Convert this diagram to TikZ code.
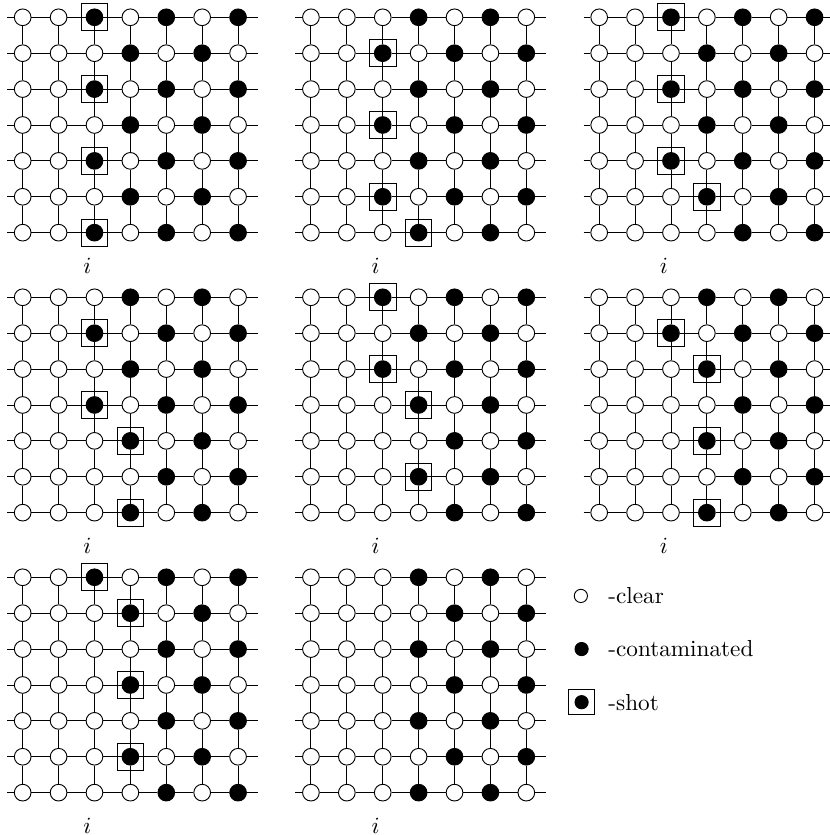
\documentclass[tikz,border=0pt]{standalone}
\usepackage{tikz}
\usetikzlibrary{positioning}
\usepackage{xcolor}

\tikzset{
  clear/.style={circle, draw, fill=white, inner sep=0pt, minimum size=7.2pt},
  cont/.style={circle, draw, fill=black, inner sep=0pt, minimum size=7.2pt},
  shotbox/.style={draw, inner sep=0pt, minimum size=11.5pt},
  keytext/.style={anchor=west},
}

% one 7x7 lattice: #1 name, #2 shift, #3 rows (0 clear, 1 contaminated, 2 shot)
\newcommand{\lattice}[3]{
  \begin{scope}[shift={#2}]
    \foreach \row [count=\rw from 0] in {#3} {
      \foreach \st [count=\col from 0] in \row {
        \ifnum\st=0 \node[clear] (#1-\col-\rw) at (\col,-\rw) {};
        \else \node[cont] (#1-\col-\rw) at (\col,-\rw) {}; \fi
        \ifnum\st=2 \node[shotbox] (#1-box-\col-\rw) at (#1-\col-\rw) {}; \fi
      }
    }
    \foreach \rw in {0,...,6} {
      \coordinate (#1-l\rw) at (-0.43,-\rw);
      \coordinate (#1-r\rw) at (6.55,-\rw);
      \draw (#1-l\rw) -- (#1-0-\rw);
      \draw (#1-6-\rw) -- (#1-r\rw);
      \foreach \col in {0,...,5} {
        \pgfmathtruncatemacro{\nx}{\col+1}
        \draw (#1-\col-\rw) -- (#1-\nx-\rw);
      }
    }
    \foreach \col in {0,...,6} {
      \foreach \rw in {0,...,5} {
        \pgfmathtruncatemacro{\ny}{\rw+1}
        \draw (#1-\col-\rw) -- (#1-\col-\ny);
      }
    }
    \node (#1-lab) at (1.8,-6.92) {$i$};
  \end{scope}
}

\begin{document}
\begin{tikzpicture}[x=0.544cm, y=0.544cm]
  \useasboundingbox (-0.632,0.482) rectangle (22.49,-22.78);

  \lattice{a}{(0,0)}{{0,0,2,0,1,0,1},{0,0,0,1,0,1,0},{0,0,2,0,1,0,1},{0,0,0,1,0,1,0},{0,0,2,0,1,0,1},{0,0,0,1,0,1,0},{0,0,2,0,1,0,1}}
  \lattice{b}{(8.03,0)}{{0,0,0,1,0,1,0},{0,0,2,0,1,0,1},{0,0,0,1,0,1,0},{0,0,2,0,1,0,1},{0,0,0,1,0,1,0},{0,0,2,0,1,0,1},{0,0,0,2,0,1,0}}
  \lattice{c}{(16.06,0)}{{0,0,2,0,1,0,1},{0,0,0,1,0,1,0},{0,0,2,0,1,0,1},{0,0,0,1,0,1,0},{0,0,2,0,1,0,1},{0,0,0,2,0,1,0},{0,0,0,0,1,0,1}}

  \lattice{d}{(0,-7.8)}{{0,0,0,1,0,1,0},{0,0,2,0,1,0,1},{0,0,0,1,0,1,0},{0,0,2,0,1,0,1},{0,0,0,2,0,1,0},{0,0,0,0,1,0,1},{0,0,0,2,0,1,0}}
  \lattice{e}{(8.03,-7.8)}{{0,0,2,0,1,0,1},{0,0,0,1,0,1,0},{0,0,2,0,1,0,1},{0,0,0,2,0,1,0},{0,0,0,0,1,0,1},{0,0,0,2,0,1,0},{0,0,0,0,1,0,1}}
  \lattice{f}{(16.06,-7.8)}{{0,0,0,1,0,1,0},{0,0,2,0,1,0,1},{0,0,0,2,0,1,0},{0,0,0,0,1,0,1},{0,0,0,2,0,1,0},{0,0,0,0,1,0,1},{0,0,0,2,0,1,0}}

  \lattice{g}{(0,-15.6)}{{0,0,2,0,1,0,1},{0,0,0,2,0,1,0},{0,0,0,0,1,0,1},{0,0,0,2,0,1,0},{0,0,0,0,1,0,1},{0,0,0,2,0,1,0},{0,0,0,0,1,0,1}}
  \lattice{h}{(8.03,-15.6)}{{0,0,0,1,0,1,0},{0,0,0,0,1,0,1},{0,0,0,1,0,1,0},{0,0,0,0,1,0,1},{0,0,0,1,0,1,0},{0,0,0,0,1,0,1},{0,0,0,1,0,1,0}}

  % legend
  \node[clear, minimum size=5.7pt] (keyclear) at (15.55,-16.12) {};
  \node[cont, minimum size=5.7pt] (keycont) at (15.57,-17.6) {};
  \node[cont, minimum size=5.7pt] (keyshot) at (15.57,-19.08) {};
  \node[shotbox, minimum size=11pt] (keybox) at (keyshot) {};
  \node[keytext] (keyclear-txt) at (16.09,-16.12) {-clear};
  \node[keytext] (keycont-txt) at (16.09,-17.6) {-contaminated};
  \node[keytext] (keyshot-txt) at (16.09,-19.08) {-shot};
\end{tikzpicture}
\end{document}
